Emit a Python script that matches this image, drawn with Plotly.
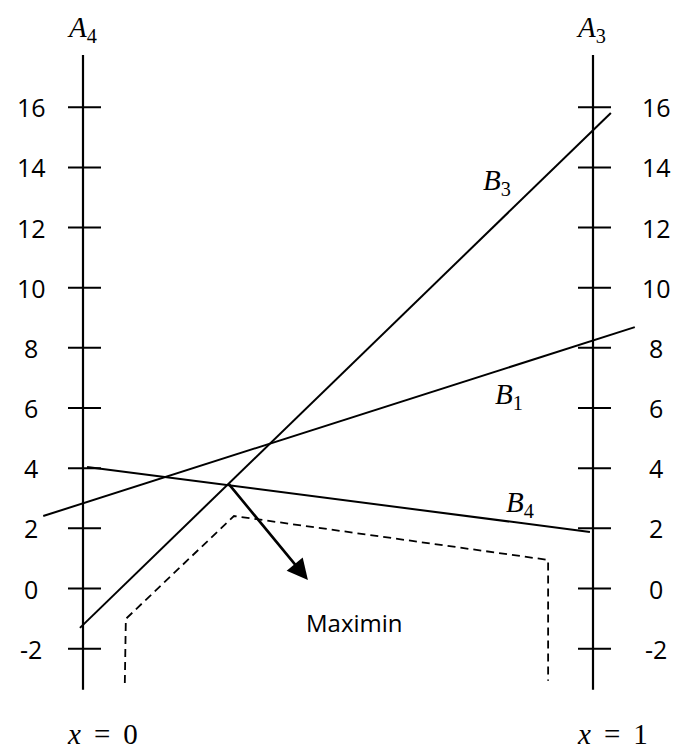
import plotly.graph_objects as go

# ---- data ----
tick_values = [-2, 0, 2, 4, 6, 8, 10, 12, 14, 16]
tick_labels = ["-2", "0", "2", "4", "6", "8", "10", "12", "14", "16"]

axis_x = [0, 1]                 # A4 at x=0, A3 at x=1
axis_span = [-3.37, 17.74]      # vertical extent of the two axes

b3_x = [-0.006, 1.035]
b3_y = [-1.31, 15.81]
b1_x = [-0.078, 1.082]
b1_y = [2.41, 8.69]
b4_x = [0.008, 0.994]
b4_y = [4.04, 1.88]

dash_x = [0.082, 0.084, 0.296, 0.912, 0.912]
dash_y = [-3.14, -1.01, 2.41, 0.95, -3.07]

maximin_tail = (0.284, 3.51)
maximin_head = (0.441, 0.28)

# ---- figure ----
WIN_W, WIN_H = 679, 753
OFF = 8                      # default page margin around the plot div
W, H = WIN_W - OFF, WIN_H - OFF
X0PX, XSCALE = 83, 510.0     # window pixel of x=0, pixels per unit
Y0PX, YSCALE = 588.5, 30.08  # window pixel of y=0, pixels per unit


def px_x(p):
    return (p - X0PX) / XSCALE


def px_y(p):
    return (Y0PX - p) / YSCALE


xr = [px_x(OFF), px_x(WIN_W)]
yr = [px_y(WIN_H), px_y(OFF)]

fig = go.Figure()
black = "#000000"

# vertical axes
for ax in axis_x:
    fig.add_trace(go.Scatter(x=[ax, ax], y=axis_span, mode="lines",
                             line=dict(color=black, width=2.2), hoverinfo="skip"))

# tick marks crossing each axis
tx, ty = [], []
for ax in axis_x:
    for v in tick_values:
        tx += [ax - 15 / XSCALE, ax + 18 / XSCALE, None]
        ty += [v, v, None]
fig.add_trace(go.Scatter(x=tx, y=ty, mode="lines",
                         line=dict(color=black, width=2), hoverinfo="skip"))

# strategy lines
for xs, ys in [(b3_x, b3_y), (b1_x, b1_y), (b4_x, b4_y)]:
    fig.add_trace(go.Scatter(x=xs, y=ys, mode="lines",
                             line=dict(color=black, width=2), hoverinfo="skip"))

# dashed envelope
fig.add_trace(go.Scatter(x=dash_x, y=dash_y, mode="lines",
                         line=dict(color=black, width=1.8, dash="8px,5px"),
                         hoverinfo="skip"))

ann = []
# arrow
ann.append(dict(x=maximin_head[0], y=maximin_head[1], ax=maximin_tail[0], ay=maximin_tail[1],
                xref="x", yref="y", axref="x", ayref="y", showarrow=True,
                arrowhead=2, arrowsize=1.6, arrowwidth=2.6, arrowcolor=black, text="",
                standoff=0, startstandoff=0))

sans = dict(family="Open Sans, Noto Sans, sans-serif", size=25, color=black)
serif = dict(family="Liberation Serif, DejaVu Serif, serif", size=29, color=black)

# tick labels
for v, lab in zip(tick_values, tick_labels):
    ann.append(dict(x=px_x(31), y=v, text=lab, showarrow=False,
                    xanchor="center", yanchor="middle", font=sans))
    ann.append(dict(x=px_x(656), y=v, text=lab, showarrow=False,
                    xanchor="center", yanchor="middle", font=sans))

texts = [
    ("<i>A</i><sub>4</sub>", px_x(82), px_y(9), "top"),
    ("<i>A</i><sub>3</sub>", px_x(591), px_y(9), "top"),
    ("<i>B</i><sub>3</sub>", px_x(497), px_y(182), "middle"),
    ("<i>B</i><sub>1</sub>", px_x(509), px_y(396), "middle"),
    ("<i>B</i><sub>4</sub>", px_x(520), px_y(504), "middle"),
    ("<i>x</i> \u2009= \u20090", px_x(102), px_y(752), "bottom"),
    ("<i>x</i> \u2009= \u20091", px_x(612), px_y(752), "bottom"),
]
for t, x, y, ya in texts:
    ann.append(dict(x=x, y=y, text=t, showarrow=False, xanchor="center",
                    yanchor=ya, font=serif))

ann.append(dict(x=px_x(354), y=px_y(622), text="Maximin", showarrow=False,
                xanchor="center", yanchor="middle",
                font=dict(family="Open Sans, Noto Sans, sans-serif", size=24, color=black)))

fig.update_layout(
    width=W, height=H, autosize=False,
    margin=dict(l=0, r=0, t=0, b=0),
    paper_bgcolor="white", plot_bgcolor="white",
    showlegend=False,
    xaxis=dict(range=xr, visible=False, fixedrange=True),
    yaxis=dict(range=yr, visible=False, fixedrange=True),
    annotations=ann,
)

fig.write_html("out.html")
